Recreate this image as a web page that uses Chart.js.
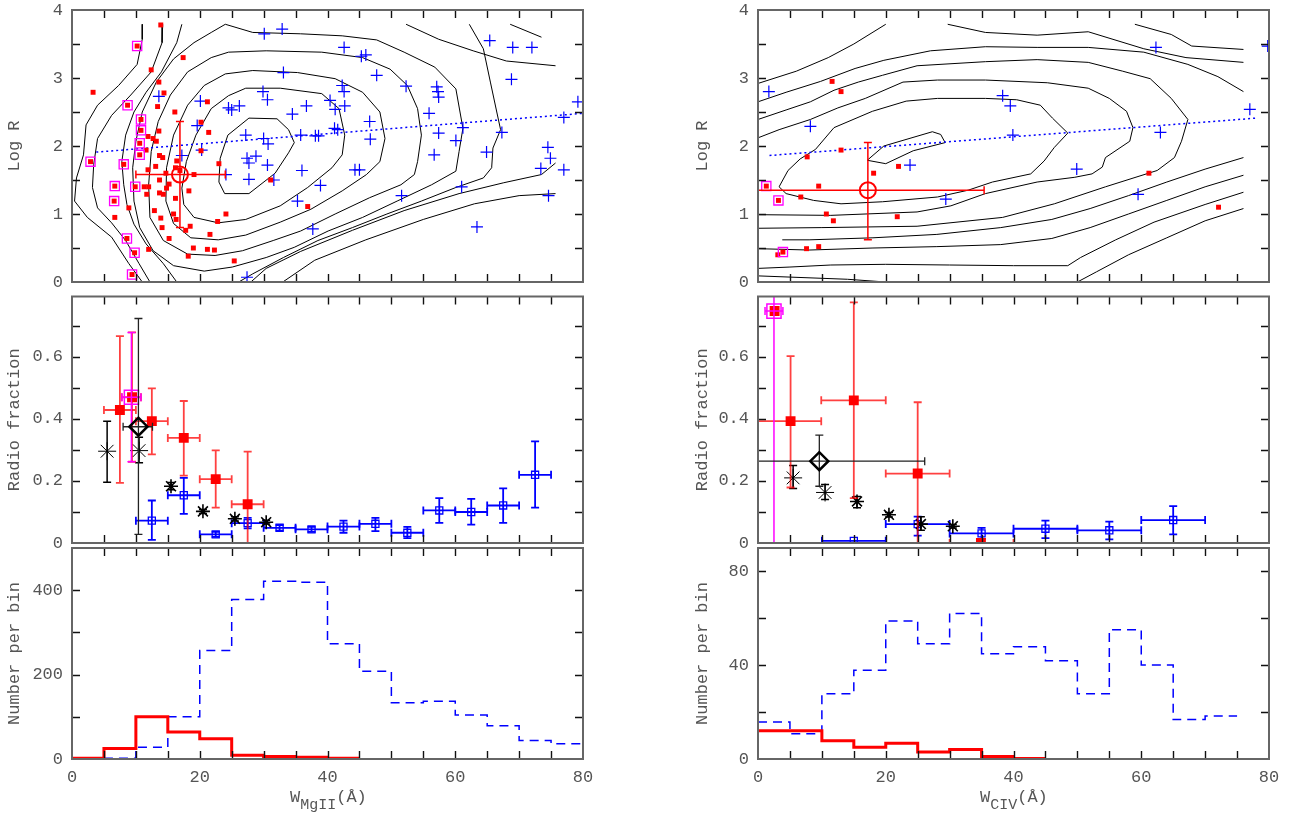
<!DOCTYPE html>
<html>
<head>
<meta charset="utf-8">
<script src="https://cdn.jsdelivr.net/npm/chart.js@4.4.0/dist/chart.umd.min.js"></script>
<style>
  body { margin: 0; background: #fff; }
  #page { position: relative; width: 1295px; height: 823px; overflow: hidden; background: #fff; }
  .box { position: absolute; }
  .xt { position: absolute; color: #555; font: 17px 'Liberation Mono', 'DejaVu Sans Mono', monospace; white-space: nowrap; }
  .xt sub { font-size: 15px; vertical-align: -7px; }
</style>
</head>
<body>
<div id="page">
  <div class="box" style="left:0px;top:0px"><canvas id="tl" width="600" height="300"></canvas></div>
  <div class="box" style="left:0px;top:285px"><canvas id="ml" width="600" height="275"></canvas></div>
  <div class="box" style="left:0px;top:545px"><canvas id="bl" width="600" height="278"></canvas></div>
  <div class="box" style="left:688px;top:0px"><canvas id="tr" width="600" height="300"></canvas></div>
  <div class="box" style="left:688px;top:285px"><canvas id="mr" width="600" height="275"></canvas></div>
  <div class="box" style="left:688px;top:545px"><canvas id="br" width="600" height="278"></canvas></div>
  <div class="xt" style="left:290px;top:788px">W<sub>MgII</sub>(Å)</div>
  <div class="xt" style="left:980px;top:788px">W<sub>CIV</sub>(Å)</div>
</div>
<script>
// ---- data: top panels (W, log R) ----
const tlRed = [[13.9,3.78],[3.3,2.79],[17.4,3.30],[12.4,3.12],[13.6,2.94],[14.4,2.78],[13.4,2.58],[16.1,2.50],[21.2,2.65],[20.2,2.35],
  [13.6,2.22],[21.4,2.20],[11.9,2.14],[12.7,2.11],[13.2,2.07],[11.6,1.94],[20.2,1.93],[13.7,1.86],[14.2,1.83],[13.1,1.70],[11.9,1.65],
  [16.4,1.78],[23.0,1.74],[16.2,1.68],[16.9,1.64],[19.1,1.58],[14.7,1.60],[13.7,1.50],[11.3,1.40],[12.0,1.40],[15.2,1.44],[14.8,1.38],
  [18.3,1.34],[13.7,1.31],[14.3,1.29],[11.7,1.29],[16.2,1.23],[31.1,1.50],[8.9,1.09],[12.9,1.05],[6.7,0.95],[13.9,0.94],[15.9,1.00],
  [16.3,0.92],[24.1,1.00],[22.8,0.89],[14.1,0.80],[18.5,0.82],[17.8,0.76],[21.6,0.70],[15.2,0.64],[36.9,1.11],[12.0,0.48],[19.0,0.50],
  [21.2,0.48],[22.3,0.47],[18.2,0.38],[25.4,0.31]];
const tlMag = [[10.2,3.47],[8.7,2.60],[10.8,2.39],[10.8,2.23],[10.6,2.04],[10.6,1.87],[2.9,1.77],[8.1,1.73],[6.7,1.41],[9.9,1.40],
  [6.6,1.19],[8.6,0.64],[9.8,0.43],[9.4,0.11]];
const tlBlue = [[32.9,3.72],[30.1,3.65],[42.6,3.45],[45.3,3.32],[46.0,3.34],[65.4,3.55],[69.0,3.45],[72.0,3.45],[33.1,3.08],[47.7,3.04],
  [52.3,2.88],[57.1,2.87],[57.3,2.80],[57.4,2.72],[68.8,2.98],[42.3,2.89],[42.6,2.80],[29.9,2.80],[30.6,2.68],[13.6,2.73],[20.1,2.66],
  [24.5,2.56],[25.0,2.53],[26.2,2.59],[34.5,2.47],[36.7,2.59],[40.4,2.67],[41.2,2.54],[42.7,2.59],[55.9,2.48],[79.2,2.65],[77.0,2.42],
  [19.6,2.30],[46.6,2.36],[41.1,2.26],[41.6,2.24],[35.8,2.16],[38.1,2.15],[38.6,2.15],[27.2,2.16],[30.0,2.11],[30.7,2.03],[46.7,2.10],
  [57.4,2.19],[60.1,2.08],[67.3,2.20],[61.2,2.27],[74.5,1.98],[74.9,1.82],[64.9,1.91],[56.7,1.87],[17.2,1.86],[20.3,1.94],[27.4,1.82],
  [28.8,1.85],[27.7,1.75],[30.6,1.72],[36.0,1.64],[44.3,1.65],[45.0,1.65],[77.0,1.65],[73.4,1.67],[24.1,1.58],[27.7,1.51],[31.6,1.50],
  [38.9,1.42],[61.0,1.40],[51.6,1.27],[74.6,1.27],[35.3,1.19],[37.7,0.78],[63.4,0.81],[27.4,0.07]];
const tlMean = [[16.9,1.58]];
const tlMeanErr = { xlo: [10.0], xhi: [24.0], ylo: [0.80], yhi: [2.36] };
const tlFit = [[3.8,1.91],[80,2.48]];

const trRed = [[11.6,2.95],[13.0,2.80],[7.7,1.84],[13.0,1.94],[22.0,1.70],[18.1,1.60],[9.5,1.41],[6.7,1.25],[10.7,1.00],[11.8,0.90],
  [21.8,0.96],[7.6,0.49],[9.5,0.52],[3.1,0.40],[61.2,1.60],[72.1,1.10]];
const trMag = [[1.3,1.41],[3.2,1.20],[3.9,0.44]];
const trBlue = [[1.7,2.80],[8.2,2.29],[23.8,1.72],[29.4,1.22],[38.3,2.74],[39.5,2.59],[39.9,2.16],[49.9,1.66],[59.5,1.29],[62.3,3.45],
  [63.0,2.20],[77.0,2.54],[79.8,3.47]];
const trMean = [[17.2,1.35]];
const trMeanErr = { xlo: [0], xhi: [35.4], ylo: [0.62], yhi: [2.05] };
const trFit = [[1.8,1.86],[78,2.41]];

// contour lines
const tlContours = [
  [[27.7,2.41],[32.1,2.40],[33.9,2.24],[34.8,2.05],[33.9,1.90],[31.8,1.60],[27.7,1.30],[23.9,1.30],[23.0,1.47],[23.2,1.82],[24.4,2.16],[27.7,2.41]],
  [[27.2,2.85],[32.6,2.85],[39.1,2.77],[41.8,2.55],[42.7,2.16],[42.3,1.87],[40.7,1.68],[36.9,1.39],[32.6,1.12],[27.2,0.92],[22.9,0.87],
   [19.1,0.95],[17.5,1.14],[17.2,1.38],[17.9,1.77],[19.4,2.16],[21.8,2.55],[24.5,2.74],[27.2,2.85]],
  [[28.3,3.11],[35.3,3.08],[41.2,2.99],[45.5,2.79],[48.2,2.50],[49.0,2.11],[48.2,1.77],[46.1,1.58],[42.3,1.34],[37.4,1.07],[32.6,0.88],
   [27.2,0.69],[22.9,0.62],[18.6,0.65],[15.9,0.86],[14.7,1.19],[14.8,1.68],[15.9,2.16],[18.1,2.60],[20.7,2.89],[24.0,3.06],[28.3,3.11]],
  [[21.8,3.30],[24.5,3.38],[30.4,3.40],[39.1,3.38],[45.5,3.30],[49.8,3.13],[52.5,2.89],[54.1,2.55],[54.7,2.16],[54.1,1.77],[53.6,1.58],
   [51.5,1.43],[46.6,1.24],[41.2,1.00],[35.8,0.75],[31.5,0.61],[26.7,0.46],[22.4,0.39],[18.1,0.41],[14.3,0.61],[12.2,0.95],[12.0,1.43],
   [12.4,1.92],[13.5,2.36],[15.4,2.75],[18.1,3.09],[21.8,3.30]],
  [[19.1,3.52],[21.8,3.67],[24.0,3.79],[28.3,3.67],[35.8,3.65],[42.3,3.62],[47.7,3.56],[52.0,3.38],[56.8,3.16],[60.1,2.84],[61.2,2.26],
   [60.6,1.92],[60.1,1.63],[56.3,1.43],[50.9,1.19],[45.5,0.95],[40.1,0.75],[34.8,0.51],[30.4,0.36],[25.1,0.22],[20.7,0.16],[15.9,0.24],
   [12.7,0.46],[10.6,0.80],[9.7,1.19],[9.5,1.68],[10.0,2.07],[11.0,2.50],[13.2,2.94],[15.9,3.28],[19.1,3.52]],
  [[17.2,3.79],[16.4,3.52],[14.0,3.09],[11.6,2.79],[9.7,2.50],[8.4,2.16],[7.8,1.77],[8.1,1.43],[8.6,1.14],[9.7,0.85],[11.6,0.56],[14.3,0.27],[16.4,0.0]],
  [[14.2,3.79],[14.1,3.52],[12.4,3.09],[9.2,2.75],[6.2,2.45],[4.0,2.11],[3.4,1.73],[3.2,1.39],[4.0,1.09],[6.2,0.87],[8.4,0.61],[10.5,0.27],[12.2,0]],
  [[11.0,3.79],[11.0,3.57],[10.2,3.20],[7.3,2.89],[4.0,2.60],[2.2,2.31],[1.8,1.87],[0.7,1.53],[0.4,1.19],[2.4,0.95],[6.2,0.66],[8.9,0.27],[11.0,0]],
  [[62.2,3.79],[64.4,3.43],[65.5,2.94],[66.5,2.50],[67.1,2.24],[65.9,1.97],[65.7,1.68],[64.4,1.53],[60.1,1.39],[54.7,1.19],[49.3,1.00],
   [43.9,0.80],[38.5,0.61],[33.1,0.36],[28.3,0.12],[26.1,0]],
  [[52.3,3.79],[57.4,3.57],[62.8,3.40],[68.0,3.25],[75.7,3.18]],
  [[68.6,3.79],[73.5,3.60]],
  [[75.7,1.75],[73.5,1.58],[67.6,1.46],[60.6,1.30],[52.0,1.05],[43.9,0.76],[35.8,0.45],[30.4,0.20],[28.0,0]],
  [[75.7,1.30],[70.0,1.27],[63.0,1.15],[55.0,0.92],[46.0,0.62],[38.0,0.32],[33.0,0]]
];
const trContours = [
  [[17.1,1.79],[19.7,2.00],[27.3,2.21],[28.6,2.17],[29.3,2.05],[24.3,1.93],[20.0,1.74],[17.1,1.79]],
  [[3.3,1.40],[4.7,1.64],[6.6,1.81],[9.0,1.95],[11.9,2.27],[17.9,2.51],[23.2,2.66],[28.1,2.70],[35.6,2.70],[40.5,2.68],[44.2,2.60],
   [46.1,2.41],[48.5,2.19],[46.4,1.98],[44.8,1.78],[42.7,1.59],[36.7,1.47],[32.9,1.35],[28.1,1.25],[19.5,1.18],[13.0,1.15],[8.7,1.20],[4.4,1.30],[3.3,1.40]],
  [[0,2.12],[3.3,2.24],[8.2,2.39],[12.5,2.56],[16.8,2.70],[22.7,2.94],[28.1,2.97],[35.6,2.97],[45.3,2.93],[51.7,2.85],[55.0,2.70],
   [57.7,2.51],[58.7,2.27],[58.2,2.07],[54.4,1.83],[53.9,1.69],[52.3,1.59],[49.6,1.54],[43.7,1.47],[35.6,1.30],[30.2,1.12],[24.9,1.03],[11.4,0.98],[0,0.99]],
  [[0,2.39],[4.4,2.53],[8.2,2.65],[11.9,2.82],[15.7,2.94],[19.5,3.04],[24.9,3.18],[35.6,3.24],[43.7,3.27],[51.7,3.23],[57.1,3.10],
   [61.4,2.99],[64.7,2.70],[67.3,2.39],[66.3,2.07],[65.2,1.83],[62.5,1.64],[54.4,1.40],[46.4,1.15],[38.3,0.95],[24.9,0.82],[10.0,0.80],[0,0.79]],
  [[0,2.65],[4.4,2.79],[9.8,2.95],[15.2,3.14],[19.7,3.26],[27.0,3.40],[35.6,3.46],[43.7,3.45],[51.7,3.45],[60.4,3.38],[67.3,3.20],[72.0,3.02],[76,2.80]],
  [[76,1.83],[70,1.66],[64,1.47],[58,1.27],[52,1.08],[46,0.92],[38,0.80],[28,0.70],[18,0.65],[8,0.62],[3.8,0.62]],
  [[76,1.57],[70,1.40],[64,1.20],[58,1.00],[52,0.80],[46,0.64],[38,0.55],[28,0.52],[18,0.50],[8,0.47],[0,0.49]],
  [[76,1.32],[70,1.14],[62,0.88],[56,0.62],[50.5,0.36],[48.5,0.24],[40,0.24],[30,0.25],[20,0.26],[11.4,0.25],[5,0.22],[0,0.20]],
  [[76,1.08],[70,0.90],[64,0.65],[58,0.40],[53,0.15],[50,0]],
  [[0,2.92],[6.0,3.10],[11.0,3.30],[15.0,3.50],[20.0,3.79]],
  [[29.7,3.79],[35.6,3.67],[43.7,3.63],[51.7,3.68],[60.4,3.43],[67.0,3.30],[76,3.23]],
  [[59.0,3.79],[64.7,3.64],[67.9,3.47],[76,3.42]],
  [[0,0.09],[14.0,0.04],[20.0,0.0]]
];

// ---- data: middle panels (radio fraction) ----
const mlRedX = [7.5, 9.4, 12.5, 17.5, 22.5, 27.5];
const mlRedY = [0.429, 0.470, 0.393, 0.339, 0.206, 0.125];
const mlRedErr = { xlo: [5, 7.8, 10, 15, 20, 25], xhi: [10, 10.8, 15, 20, 25, 30],
                   ylo: [0.194, 0.262, 0.286, 0.217, 0.114, 0], yhi: [0.667, 0.679, 0.499, 0.458, 0.299, 0.295] };
const mlMag = [[9.3, 0.47]];
const mlMagErr = { xlo: [7.8], xhi: [10.8], ylo: [0.262], yhi: [0.679] };
const mlDia = [[10.4, 0.375]];
const mlDiaErr = { xlo: [8.0], xhi: [12.6], ylo: [0.028], yhi: [0.724] };
const mlStarX = [5.5, 10.5, 15.5, 20.5, 25.5, 30.4];
const mlStarY = [0.296, 0.298, 0.183, 0.102, 0.078, 0.067];
const mlStarErr = { ylo: [0.196, 0.259, 0.172, 0.095, 0.071, 0.061], yhi: [0.393, 0.341, 0.195, 0.108, 0.085, 0.073] };
const mlBlueX = [12.5, 17.5, 22.5, 27.5, 32.5, 37.5, 42.5, 47.5, 52.5, 57.5, 62.5, 67.5, 72.5];
const mlBlueY = [0.072, 0.154, 0.028, 0.064, 0.049, 0.044, 0.053, 0.062, 0.033, 0.105, 0.100, 0.121, 0.220];
const mlBlueErr = { xlo: [10, 15, 20, 25, 30, 35, 40, 45, 50, 55, 60, 65, 70], xhi: [15, 20, 25, 30, 35, 40, 45, 50, 55, 60, 65, 70, 75],
                    ylo: [0.010, 0.094, 0.020, 0.047, 0.040, 0.036, 0.033, 0.038, 0.016, 0.065, 0.059, 0.065, 0.114],
                    yhi: [0.137, 0.210, 0.036, 0.081, 0.058, 0.052, 0.072, 0.081, 0.052, 0.145, 0.142, 0.176, 0.328] };

const mrRedX = [2.6, 5.1, 15.0, 25.0, 34.9];
const mrRedY = [0.748, 0.393, 0.460, 0.224, 0.0];
const mrRedErr = { xlo: [2.6, 0, 9.9, 20, 30], xhi: [2.6, 9.9, 20, 30, 40],
                   ylo: [0.748, 0.179, 0.145, 0, 0], yhi: [0.748, 0.603, 0.776, 0.454, 0] };
const mrMag = [[2.5, 0.748]];
const mrMagErr = { xlo: [1.1], xhi: [3.9], ylo: [0], yhi: [0.9] };
const mrDia = [[9.6, 0.264]];
const mrDiaErr = { xlo: [0], xhi: [26.1], ylo: [0.183], yhi: [0.348] };
const mrStarX = [5.5, 10.5, 15.5, 20.5, 25.5, 30.5];
const mrStarY = [0.210, 0.163, 0.134, 0.091, 0.061, 0.054];
const mrStarErr = { ylo: [0.176, 0.140, 0.114, 0.084, 0.041, 0.048], yhi: [0.250, 0.189, 0.150, 0.098, 0.085, 0.060] };
const mrBlueX = [15, 25, 35, 45, 55, 65];
const mrBlueY = [0.007, 0.061, 0.031, 0.046, 0.041, 0.074];
const mrBlueErr = { xlo: [10, 20, 30, 40, 50, 60], xhi: [20, 30, 40, 50, 60, 70],
                    ylo: [0.007, 0.024, 0.013, 0.016, 0.012, 0.028], yhi: [0.007, 0.085, 0.049, 0.072, 0.069, 0.119] };

// ---- data: bottom panels (histograms, bin width 5) ----
const blBlueEdges = [5, 10, 15, 20, 25, 30, 35, 40, 45, 50, 55, 60, 65, 70, 75, 80];
const blBlue = [2, 28, 100, 257, 378, 421, 419, 273, 208, 133, 137, 104, 79, 44, 36];
const blRedEdges = [0, 5, 10, 15, 20, 25, 30, 35, 40, 45];
const blRed = [2, 25, 100, 64, 48, 9, 6, 4, 2];
const brBlueEdges = [0, 5, 10, 15, 20, 25, 30, 35, 40, 45, 50, 55, 60, 65, 70, 75];
const brBlue = [15.8, 10.8, 27.8, 37.9, 58.9, 49.2, 62.1, 44.9, 47.9, 41.9, 27.8, 55.1, 40.1, 16.8, 18.3];
const brRedEdges = [0, 5, 10, 15, 20, 25, 30, 35, 40, 45];
const brRed = [12.1, 12.1, 7.8, 5.0, 6.7, 3.0, 4.0, 1.1, 0.2];

// ---- helpers ----
const FONT = { family: "'Liberation Mono', 'DejaVu Sans Mono', monospace", size: 17 };
const TXT = '#555';
const RED = '#ff0000', BLUE = '#0000ff', MAG = '#ff00ff';

const pts = arr => arr.map(p => ({ x: p[0], y: p[1] }));
const zip = (xs, ys) => xs.map((x, i) => ({ x: x, y: ys[i] }));
function steps(edges, vals) {
  const out = vals.map((v, i) => ({ x: edges[i], y: v }));
  out.push({ x: edges[vals.length], y: vals[vals.length - 1] });
  return out;
}

// PGPLOT-like box with inward ticks on all four sides
const pgFrame = {
  id: 'pgFrame',
  afterDatasetsDraw(chart, args, opts) {
    const { ctx, chartArea: a, scales: { x, y } } = chart;
    ctx.save();
    ctx.strokeStyle = '#111';
    ctx.lineWidth = 1.4;
    ctx.beginPath();
    const t = 8;
    for (let v = x.min + opts.xStep; v < x.max - 1e-9; v += opts.xStep) {
      const px = Math.round(x.getPixelForValue(v)) + 0.5;
      ctx.moveTo(px, a.bottom); ctx.lineTo(px, a.bottom - t);
      ctx.moveTo(px, a.top); ctx.lineTo(px, a.top + t);
    }
    for (let v = y.min + opts.yStep; v < y.max - 1e-9; v += opts.yStep) {
      const py = Math.round(y.getPixelForValue(v)) + 0.5;
      ctx.moveTo(a.left, py); ctx.lineTo(a.left + t, py);
      ctx.moveTo(a.right, py); ctx.lineTo(a.right - t, py);
    }
    ctx.stroke();
    ctx.strokeStyle = '#666';
    ctx.lineWidth = 2;
    ctx.strokeRect(a.left, a.top, a.right - a.left, a.bottom - a.top);
    ctx.restore();
  }
};

// error bars drawn under each dataset's markers
const errorBars = {
  id: 'errorBars',
  beforeDatasetDraw(chart, args) {
    const ds = chart.data.datasets[args.index];
    if (!ds.err) return;
    const { ctx, chartArea: a, scales: { x, y } } = chart;
    const e = ds.err, cap = 4;
    ctx.save();
    ctx.beginPath();
    ctx.rect(a.left, a.top, a.right - a.left, a.bottom - a.top);
    ctx.clip();
    ctx.strokeStyle = ds.errColor || ds.borderColor;
    ctx.lineWidth = ds.errWidth || 1.5;
    ds.data.forEach((p, i) => {
      const px = x.getPixelForValue(p.x), py = y.getPixelForValue(p.y);
      ctx.beginPath();
      if (e.xlo && e.xlo[i] !== e.xhi[i]) {
        const l = x.getPixelForValue(e.xlo[i]), r = x.getPixelForValue(e.xhi[i]);
        ctx.moveTo(l, py); ctx.lineTo(r, py);
        ctx.moveTo(l, py - cap); ctx.lineTo(l, py + cap);
        ctx.moveTo(r, py - cap); ctx.lineTo(r, py + cap);
      }
      if (e.ylo && e.ylo[i] !== e.yhi[i]) {
        const lo = y.getPixelForValue(e.ylo[i]), hi = y.getPixelForValue(e.yhi[i]);
        ctx.moveTo(px, lo); ctx.lineTo(px, hi);
        ctx.moveTo(px - cap, lo); ctx.lineTo(px + cap, lo);
        ctx.moveTo(px - cap, hi); ctx.lineTo(px + cap, hi);
      }
      ctx.stroke();
    });
    ctx.restore();
  }
};

function panel(id, cfg) {
  return new Chart(document.getElementById(id), {
    type: 'scatter',
    data: { datasets: cfg.datasets },
    options: {
      responsive: false,
      animation: false,
      events: [],
      layout: { padding: { top: cfg.padTop, right: cfg.padRight, bottom: 0, left: 0 } },
      plugins: {
        legend: { display: false },
        tooltip: { enabled: false },
        pgFrame: { xStep: 5, yStep: cfg.yMinor }
      },
      scales: {
        x: {
          type: 'linear', min: 0, max: 80,
          grid: { display: false, drawTicks: false },
          border: { display: false },
          ticks: { display: cfg.xLabels, stepSize: 20, autoSkip: false, maxRotation: 0, padding: 8,
                   includeBounds: false, color: TXT, font: FONT },
          afterFit: s => { s.height = cfg.xH; s.paddingLeft = 0; s.paddingRight = 0; }
        },
        y: {
          type: 'linear', min: 0, max: cfg.yMax,
          grid: { display: false, drawTicks: false },
          border: { display: false },
          ticks: { stepSize: cfg.yStep, autoSkip: false, padding: 9, includeBounds: false, color: TXT, font: FONT },
          title: { display: true, text: cfg.yTitle, color: TXT, font: FONT, padding: { top: 4, bottom: 0 } },
          afterFit: s => { s.width = cfg.yW; s.paddingTop = 0; s.paddingBottom = 0; }
        }
      }
    },
    plugins: [pgFrame, errorBars]
  });
}

function contourSets(list) {
  return list.map(c => ({ data: pts(c), showLine: true, borderColor: '#000', borderWidth: 1,
                          pointRadius: 0, tension: 0, order: 20 }));
}

function topSets(red, mag, blue, mean, meanErr, fit, contours) {
  return [
    ...contourSets(contours),
    { data: pts(fit), showLine: true, borderColor: BLUE, borderWidth: 1.5, borderDash: [2, 3], pointRadius: 0, order: 15 },
    { data: pts(blue), pointStyle: 'cross', radius: 6, borderColor: BLUE, borderWidth: 1.2, order: 6 },
    { data: pts(red), pointStyle: 'rect', radius: 3.5, backgroundColor: RED, borderColor: RED, borderWidth: 0, order: 5 },
    { data: pts(mag), pointStyle: 'rect', radius: 3.5, backgroundColor: RED, borderColor: RED, borderWidth: 0, order: 4 },
    { data: pts(mag), pointStyle: 'rect', radius: 6.5, backgroundColor: 'rgba(0,0,0,0)', borderColor: MAG, borderWidth: 1.3, order: 3 },
    { data: pts(mean), pointStyle: 'circle', radius: 8, backgroundColor: 'rgba(0,0,0,0)', borderColor: RED, borderWidth: 2,
      err: meanErr, errWidth: 1.5, order: 2 }
  ];
}

function midSets(o) {
  return [
    { data: zip(o.blueX, o.blueY), pointStyle: 'rect', radius: 5, backgroundColor: 'rgba(0,0,0,0)', borderColor: BLUE,
      borderWidth: 1.3, err: o.blueErr, errWidth: 1.8, order: 8 },
    { data: zip(o.starX, o.starY), pointStyle: 'star', borderColor: '#000',
      radius: c => (c.dataIndex < 2 ? 9 : 7), borderWidth: c => (c.dataIndex < 2 ? 1 : 1.6),
      err: o.starErr, errWidth: 1.5, order: 7 },
    { data: zip(o.redX, o.redY), pointStyle: 'rect', radius: 7, backgroundColor: RED, borderColor: RED, borderWidth: 0,
      err: o.redErr, errColor: 'rgba(255,0,0,0.75)', errWidth: 1.8, order: 6 },
    { data: pts(o.mag), pointStyle: 'rect', radius: 10, backgroundColor: 'rgba(0,0,0,0)', borderColor: MAG, borderWidth: 1.5,
      err: o.magErr, errWidth: 1.5, order: 5 },
    { data: pts(o.dia), pointStyle: 'rectRot', radius: 9, backgroundColor: 'rgba(0,0,0,0)', borderColor: '#000', borderWidth: 2.5,
      err: o.diaErr, errColor: '#222', errWidth: 1.3, order: 4 }
  ];
}

function histSets(blueEdges, blue, redEdges, red) {
  return [
    { data: steps(blueEdges, blue), showLine: true, stepped: 'before', borderColor: BLUE, borderWidth: 1.5,
      borderDash: [9, 6], pointRadius: 0, order: 2 },
    { data: steps(redEdges, red), showLine: true, stepped: 'before', borderColor: RED, borderWidth: 3, pointRadius: 0, order: 1 }
  ];
}

// ---- left column ----
panel('tl', { padTop: 7, padRight: 17, xH: 18, yW: 72, yMax: 4, yStep: 1, yMinor: 0.5, xLabels: false, yTitle: 'Log R',
  datasets: topSets(tlRed, tlMag, tlBlue, tlMean, tlMeanErr, tlFit, tlContours) });
panel('ml', { padTop: 4, padRight: 17, xH: 17, yW: 72, yMax: 0.795, yStep: 0.2, yMinor: 0.1, xLabels: false, yTitle: 'Radio fraction',
  datasets: midSets({ redX: mlRedX, redY: mlRedY, redErr: mlRedErr, mag: mlMag, magErr: mlMagErr, dia: mlDia, diaErr: mlDiaErr,
    starX: mlStarX, starY: mlStarY, starErr: mlStarErr, blueX: mlBlueX, blueY: mlBlueY, blueErr: mlBlueErr }) });
panel('bl', { padTop: 3, padRight: 17, xH: 64, yW: 72, yMax: 500, yStep: 200, yMinor: 100, xLabels: true, yTitle: 'Number per bin',
  datasets: histSets(blBlueEdges, blBlue, blRedEdges, blRed) });

// ---- right column ----
panel('tr', { padTop: 7, padRight: 19, xH: 18, yW: 70, yMax: 4, yStep: 1, yMinor: 0.5, xLabels: false, yTitle: 'Log R',
  datasets: topSets(trRed, trMag, trBlue, trMean, trMeanErr, trFit, trContours) });
panel('mr', { padTop: 4, padRight: 19, xH: 17, yW: 70, yMax: 0.795, yStep: 0.2, yMinor: 0.1, xLabels: false, yTitle: 'Radio fraction',
  datasets: midSets({ redX: mrRedX, redY: mrRedY, redErr: mrRedErr, mag: mrMag, magErr: mrMagErr, dia: mrDia, diaErr: mrDiaErr,
    starX: mrStarX, starY: mrStarY, starErr: mrStarErr, blueX: mrBlueX, blueY: mrBlueY, blueErr: mrBlueErr }) });
panel('br', { padTop: 3, padRight: 19, xH: 64, yW: 70, yMax: 90, yStep: 40, yMinor: 20, xLabels: true, yTitle: 'Number per bin',
  datasets: histSets(brBlueEdges, brBlue, brRedEdges, brRed) });
</script>
</body>
</html>
